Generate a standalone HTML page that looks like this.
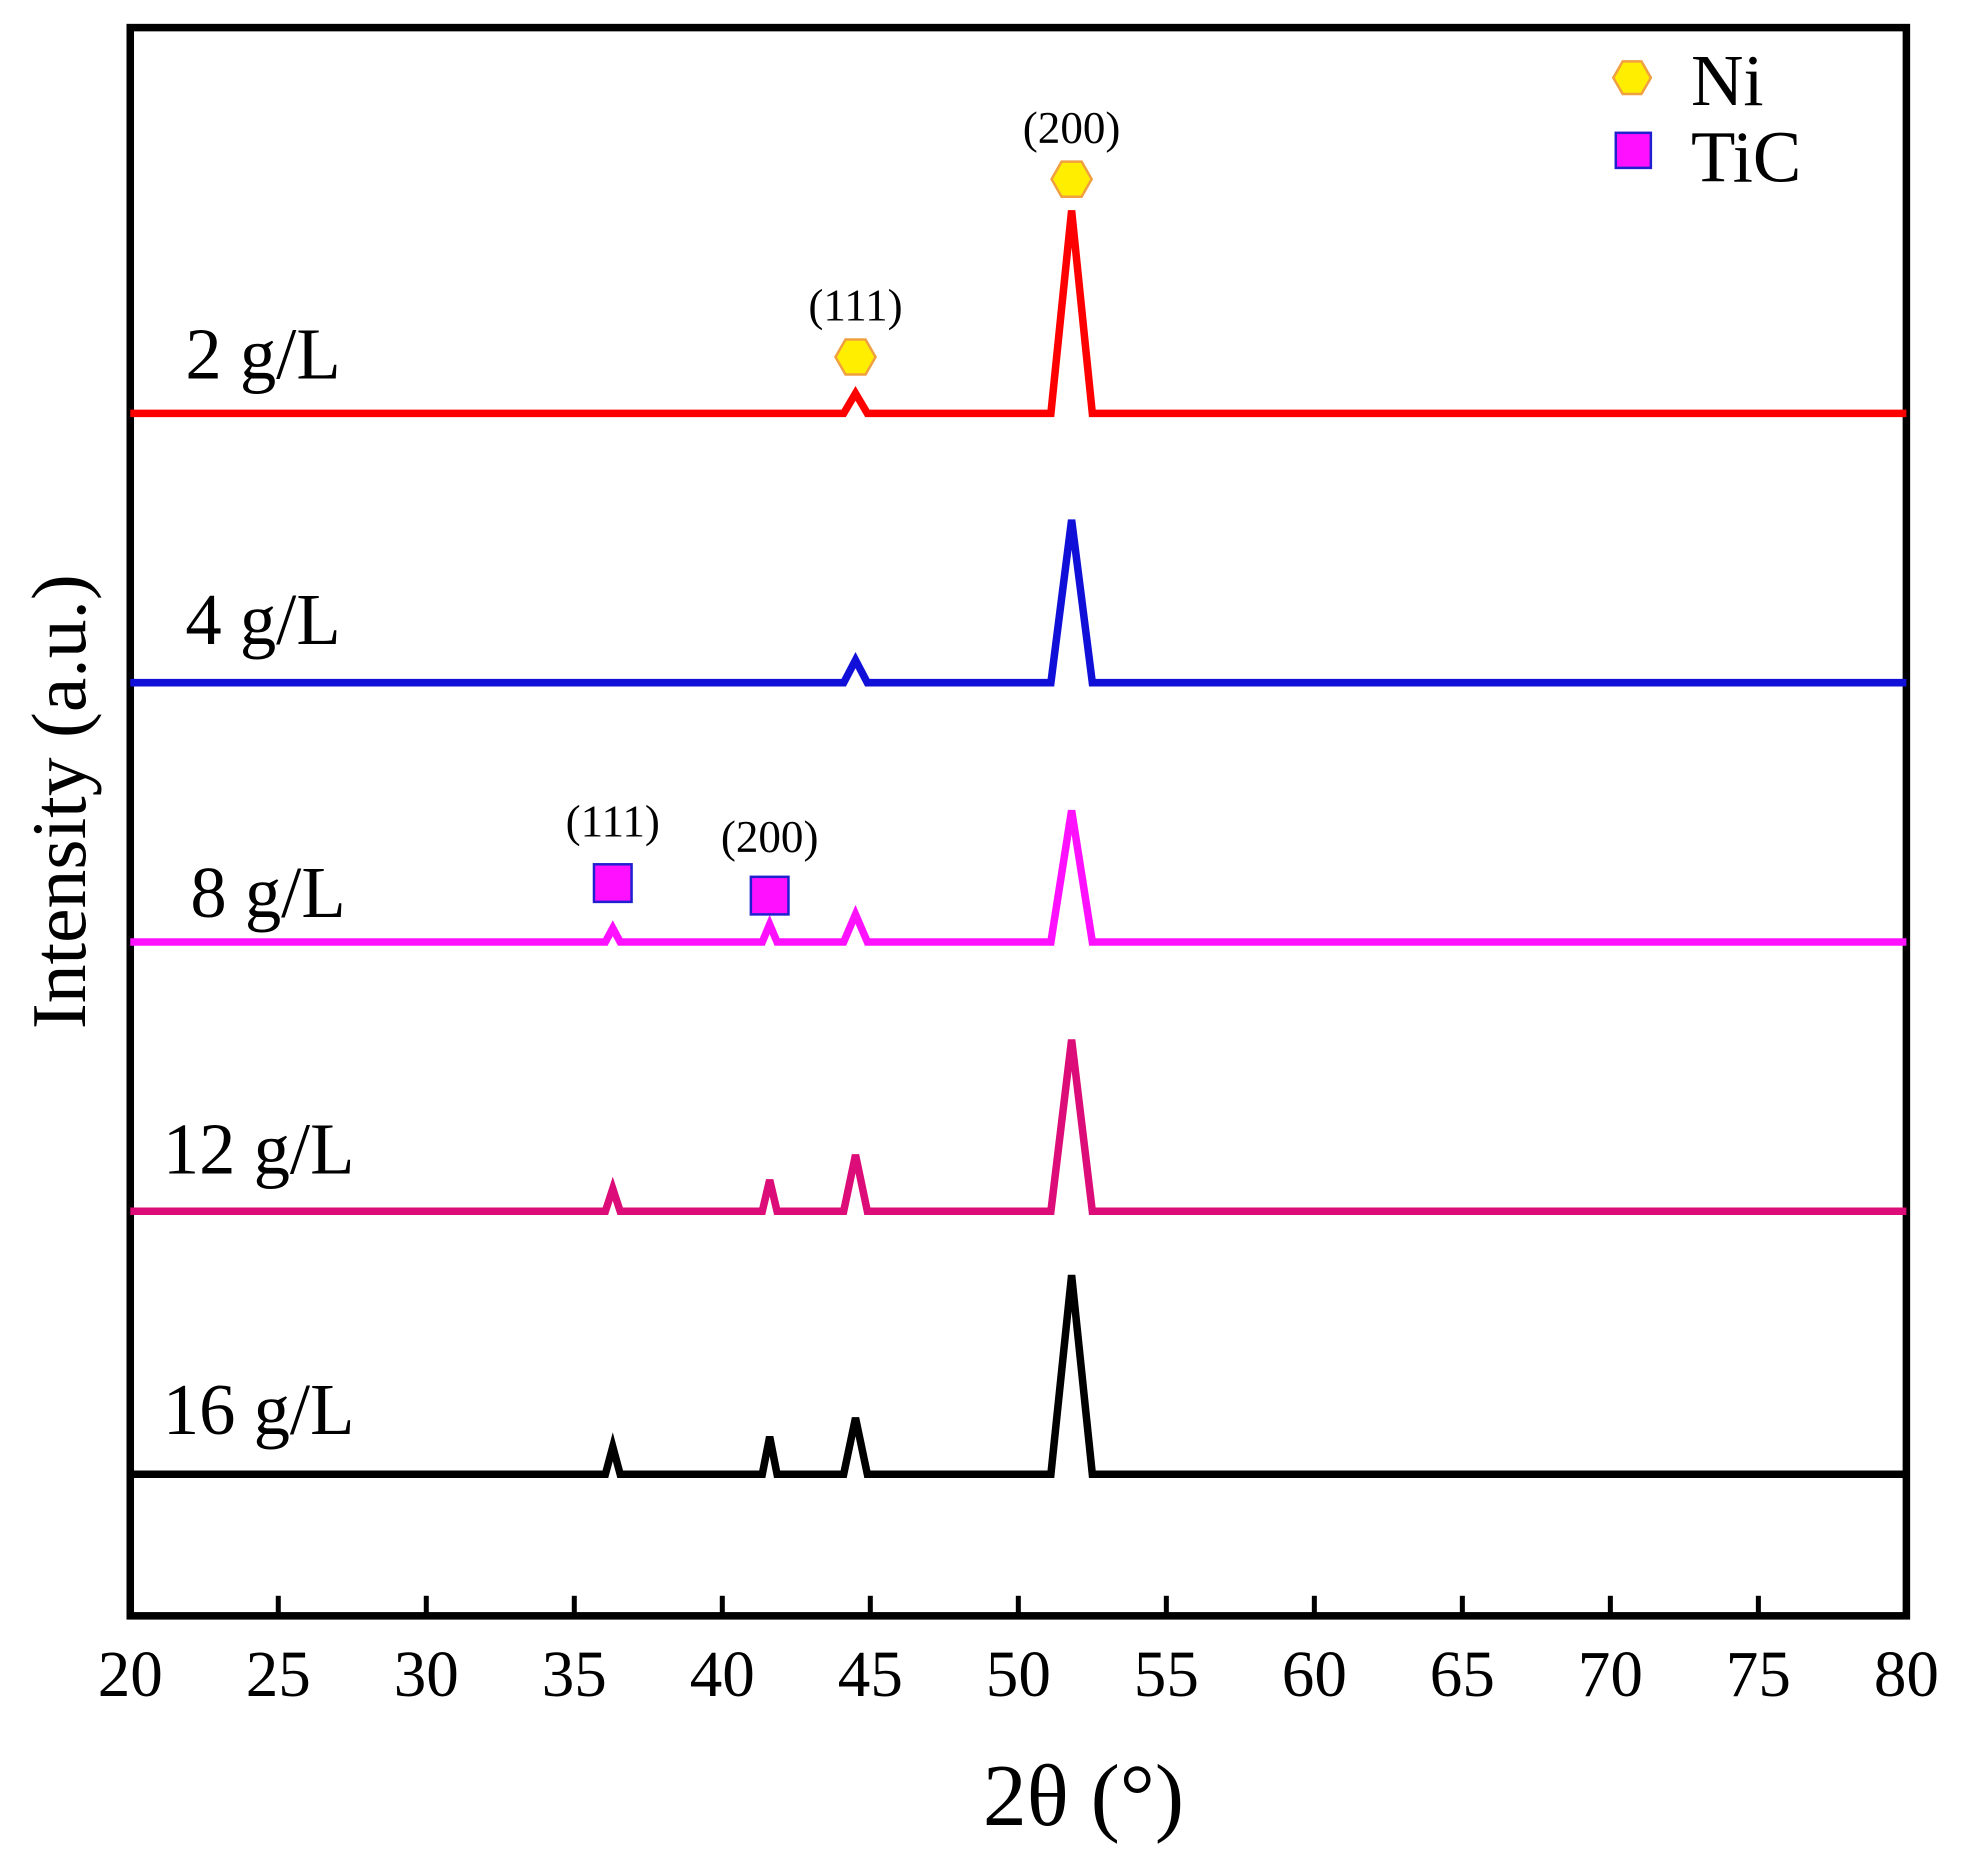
<!DOCTYPE html>
<html><head><meta charset="utf-8"><style>
html,body{margin:0;padding:0;background:#fff;}
svg{display:block;font-family:"Liberation Serif",serif;}
</style></head><body>
<svg id="chart" width="1964" height="1857" viewBox="0 0 1568 1482.5" xmlns="http://www.w3.org/2000/svg">
<rect x="104" y="22" width="1418" height="1268" fill="#fff" stroke="#000" stroke-width="6"/>
<g id="ticks"></g>
<g id="series"></g>
<text x="865" y="1457" font-size="70" text-anchor="middle">2θ (°)</text>
<text transform="translate(68,640) rotate(-90)" font-size="62" text-anchor="middle">Intensity (a.u.)</text>
<g>
<polygon points="1288,62 1295.5,49 1310.5,49 1318,62 1310.5,75 1295.5,75" fill="#ffee00" stroke="#f0a040" stroke-width="2"/>
<text x="1350" y="84" font-size="58">Ni</text>
<rect x="1290" y="106" width="28" height="28" fill="#ff10ff" stroke="#2020d0" stroke-width="2"/>
<text x="1350" y="145" font-size="58">TiC</text>
</g>
<g id="annot"></g>
</svg>
<script>
const xMin = 20, xMax = 80;
const xTicks = [20,25,30,35,40,45,50,55,60,65,70,75,80];
const seriesNames = ["2 g/L","4 g/L","8 g/L","12 g/L","16 g/L"];
const seriesColors = ["#ff0000","#1010d8","#ff10ff","#dc0c78","#000000"];
const baselines = [330,545,752,967,1177];
const peakPositions = [36.3, 41.6, 44.5, 51.8];
const peakHalfWidths = [0.25, 0.25, 0.4, 0.7];
const peaks2 = [0, 0, 16, 162];
const peaks4 = [0, 0, 18, 130];
const peaks8 = [11, 14, 22, 105];
const peaks12 = [18, 25, 45, 137];
const peaks16 = [22, 30, 45, 159];
const allPeaks = [peaks2, peaks4, peaks8, peaks12, peaks16];

const L = 104, R = 1522, B = 1290;
const sx = v => L + (v - xMin) / (xMax - xMin) * (R - L);
const NS = "http://www.w3.org/2000/svg";
const mk = (t, attrs, parent) => { const e = document.createElementNS(NS, t); for (const k in attrs) e.setAttribute(k, attrs[k]); parent.appendChild(e); return e; };

const tg = document.getElementById('ticks');
xTicks.forEach((t, i) => {
  if (i > 0 && i < xTicks.length - 1) {
    const ln = mk('line', {x1: sx(t), x2: sx(t), y1: B, y2: B - 16, stroke: '#000', 'stroke-width': 4}, tg);
    
    
  }
  const tx = mk('text', {x: sx(t), y: 1354, 'font-size': 52, 'text-anchor': 'middle'}, tg);
  tx.textContent = t;
  
  
});

const sg = document.getElementById('series');
const labelPos = [[148,302],[148,514],[152,732],[130,937],[130,1145]];
seriesNames.forEach((name, si) => {
  const base = baselines[si];
  const pk = allPeaks[si];
  let d = 'M' + sx(xMin) + ' ' + base;
  peakPositions.forEach((p, j) => {
    if (pk[j] <= 0) return;
    const hw = peakHalfWidths[j];
    d += ' L' + sx(p - hw) + ' ' + base + ' L' + sx(p) + ' ' + (base - pk[j]) + ' L' + sx(p + hw) + ' ' + base;
  });
  d += ' L' + sx(xMax) + ' ' + base;
  const path = mk('path', {d: d, fill: 'none', stroke: seriesColors[si], 'stroke-width': 6, 'stroke-linejoin': 'miter'}, sg);
  
  
  const lt = mk('text', {x: labelPos[si][0], y: labelPos[si][1], 'font-size': 58}, sg);
  lt.textContent = name;
  
  
});

const ag = document.getElementById('annot');
function hex(cx, cy, name) {
  const pts = [[-16,0],[-8,-14],[8,-14],[16,0],[8,14],[-8,14]].map(p => (cx+p[0])+','+(cy+p[1])).join(' ');
  const h = mk('polygon', {points: pts, fill: '#ffee00', stroke: '#f0a040', 'stroke-width': 2}, ag);
  
  
}
function sq(cx, cy, name) {
  const r = mk('rect', {x: cx-15, y: cy-15, width: 30, height: 30, fill: '#ff10ff', stroke: '#2020d0', 'stroke-width': 2}, ag);
  
  
}
function lbl(x, y, s, name) {
  const t = mk('text', {x: x, y: y, 'font-size': 36, 'text-anchor': 'middle'}, ag);
  t.textContent = s;
  
  
}
hex(sx(peakPositions[2]), 285, 'ni-111-marker'); lbl(sx(peakPositions[2]), 256, '(111)', 'ni-111-label');
hex(sx(peakPositions[3]), 143, 'ni-200-marker'); lbl(sx(peakPositions[3]), 114, '(200)', 'ni-200-label');
sq(sx(peakPositions[0]), 705, 'tic-111-marker'); lbl(sx(peakPositions[0]), 668, '(111)', 'tic-111-label');
sq(sx(peakPositions[1]), 715, 'tic-200-marker'); lbl(sx(peakPositions[1]), 680, '(200)', 'tic-200-label');
</script>
</body></html>
